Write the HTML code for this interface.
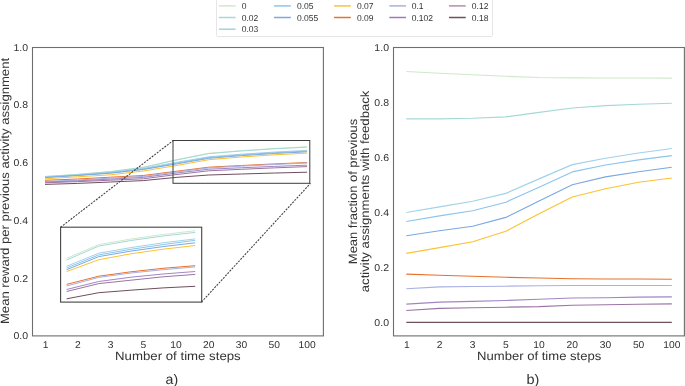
<!DOCTYPE html>
<html><head><meta charset="utf-8"><style>
html,body{margin:0;padding:0;background:#fff;}
svg{display:block;will-change:transform;}
text{font-family:"Liberation Sans", sans-serif;text-rendering:geometricPrecision;}
</style></head><body>
<svg width="685" height="386" viewBox="0 0 685 386">
<defs>
<clipPath id="clipL"><rect x="32" y="47" width="292" height="290"/></clipPath>
<clipPath id="clipI"><rect x="60.5" y="227.3" width="141" height="74.8"/></clipPath>
</defs>
<rect width="685" height="386" fill="#fff"/>
<g clip-path="url(#clipL)">
<polyline points="45.00,176.40 77.76,174.30 110.52,171.50 143.28,167.20 176.04,159.80 208.80,153.30 241.56,150.64 274.32,148.49 307.08,146.80" fill="none" stroke="#cfe9ca" stroke-width="1.0" stroke-linejoin="round" stroke-linecap="butt"/>
<polyline points="45.00,176.60 77.76,174.50 110.52,171.70 143.28,167.50 176.04,160.10 208.80,153.60 241.56,150.94 274.32,148.79 307.08,147.10" fill="none" stroke="#a4d9d5" stroke-width="1.0" stroke-linejoin="round" stroke-linecap="butt"/>
<polyline points="45.00,177.00 77.76,174.90 110.52,172.40 143.28,168.40 176.04,162.40 208.80,156.80 241.56,154.18 274.32,152.06 307.08,150.40" fill="none" stroke="#a0d2e8" stroke-width="1.0" stroke-linejoin="round" stroke-linecap="butt"/>
<polyline points="45.00,177.30 77.76,175.20 110.52,172.80 143.28,169.00 176.04,163.20 208.80,157.50 241.56,154.88 274.32,152.76 307.08,151.10" fill="none" stroke="#8cc4ec" stroke-width="1.0" stroke-linejoin="round" stroke-linecap="butt"/>
<polyline points="45.00,177.60 77.76,175.50 110.52,173.20 143.28,169.50 176.04,164.00 208.80,158.30 241.56,155.64 274.32,153.49 307.08,151.80" fill="none" stroke="#7aa9e2" stroke-width="1.0" stroke-linejoin="round" stroke-linecap="butt"/>
<polyline points="45.00,178.80 77.76,176.80 110.52,174.80 143.28,171.00 176.04,165.60 208.80,159.70 241.56,156.99 274.32,154.82 307.08,153.10" fill="none" stroke="#fcc234" stroke-width="1.0" stroke-linejoin="round" stroke-linecap="butt"/>
<polyline points="45.00,180.30 77.76,179.00 110.52,177.20 143.28,175.50 176.04,171.30 208.80,167.20 241.56,165.51 274.32,163.91 307.08,162.50" fill="none" stroke="#e8722c" stroke-width="1.0" stroke-linejoin="round" stroke-linecap="butt"/>
<polyline points="45.00,181.50 77.76,180.00 110.52,178.10 143.28,176.40 176.04,172.00 208.80,167.90 241.56,166.14 274.32,164.47 307.08,163.00" fill="none" stroke="#a9b0e4" stroke-width="1.0" stroke-linejoin="round" stroke-linecap="butt"/>
<polyline points="45.00,182.10 77.76,180.80 110.52,179.10 143.28,177.40 176.04,173.10 208.80,169.20 241.56,167.76 274.32,166.40 307.08,165.20" fill="none" stroke="#a286c4" stroke-width="1.0" stroke-linejoin="round" stroke-linecap="butt"/>
<polyline points="45.00,182.80 77.76,181.60 110.52,180.20 143.28,178.80 176.04,174.60 208.80,170.80 241.56,169.29 274.32,167.86 307.08,166.60" fill="none" stroke="#9c74a4" stroke-width="1.0" stroke-linejoin="round" stroke-linecap="butt"/>
<polyline points="45.00,184.40 77.76,183.40 110.52,182.00 143.28,180.60 176.04,177.40 208.80,175.00 241.56,173.99 274.32,173.04 307.08,172.20" fill="none" stroke="#6f4e5e" stroke-width="1.0" stroke-linejoin="round" stroke-linecap="butt"/>
</g>
<rect x="173.0" y="140.5" width="136.8" height="42.8" fill="none" stroke="#3c3c3c" stroke-width="1"/>
<rect x="60.6" y="227.2" width="141.1" height="74.9" fill="#fff" stroke="#444" stroke-width="1.1"/>
<g clip-path="url(#clipI)">
<polyline points="66.60,258.40 98.75,244.60 130.90,239.00 163.05,234.50 195.20,230.70" fill="none" stroke="#cfe9ca" stroke-width="1.0" stroke-linejoin="round" stroke-linecap="butt"/>
<polyline points="66.60,260.00 98.75,246.10 130.90,240.50 163.05,236.00 195.20,232.40" fill="none" stroke="#a4d9d5" stroke-width="1.0" stroke-linejoin="round" stroke-linecap="butt"/>
<polyline points="66.60,266.30 98.75,253.20 130.90,247.60 163.05,242.80 195.20,238.90" fill="none" stroke="#a0d2e8" stroke-width="1.0" stroke-linejoin="round" stroke-linecap="butt"/>
<polyline points="66.60,268.00 98.75,254.90 130.90,249.30 163.05,244.60 195.20,240.30" fill="none" stroke="#8cc4ec" stroke-width="1.0" stroke-linejoin="round" stroke-linecap="butt"/>
<polyline points="66.60,269.70 98.75,256.60 130.90,251.10 163.05,246.60 195.20,242.80" fill="none" stroke="#7aa9e2" stroke-width="1.0" stroke-linejoin="round" stroke-linecap="butt"/>
<polyline points="66.60,271.60 98.75,259.70 130.90,253.80 163.05,249.20 195.20,245.50" fill="none" stroke="#fcc234" stroke-width="1.0" stroke-linejoin="round" stroke-linecap="butt"/>
<polyline points="66.60,284.40 98.75,276.20 130.90,271.80 163.05,268.30 195.20,265.70" fill="none" stroke="#e8722c" stroke-width="1.0" stroke-linejoin="round" stroke-linecap="butt"/>
<polyline points="66.60,286.00 98.75,277.40 130.90,273.00 163.05,269.70 195.20,266.90" fill="none" stroke="#a9b0e4" stroke-width="1.0" stroke-linejoin="round" stroke-linecap="butt"/>
<polyline points="66.60,289.50 98.75,281.50 130.90,277.20 163.05,274.00 195.20,271.50" fill="none" stroke="#a286c4" stroke-width="1.0" stroke-linejoin="round" stroke-linecap="butt"/>
<polyline points="66.60,291.50 98.75,283.60 130.90,280.20 163.05,276.80 195.20,274.40" fill="none" stroke="#9c74a4" stroke-width="1.0" stroke-linejoin="round" stroke-linecap="butt"/>
<polyline points="66.60,298.80 98.75,292.70 130.90,290.20 163.05,287.90 195.20,286.30" fill="none" stroke="#6f4e5e" stroke-width="1.0" stroke-linejoin="round" stroke-linecap="butt"/>
</g>
<line x1="60.5" y1="227.3" x2="173.2" y2="140.5" stroke="#3c3c3c" stroke-width="1.05" stroke-dasharray="2.0,1.2"/>
<line x1="201.5" y1="302.1" x2="310.5" y2="183.3" stroke="#3c3c3c" stroke-width="1.05" stroke-dasharray="2.0,1.2"/>
<rect x="32.5" y="47.5" width="290.9" height="288.4" fill="none" stroke="#6e6e6e" stroke-width="1.1"/>
<polyline points="406.30,71.50 439.49,73.20 472.68,74.80 505.87,76.30 539.06,77.50 572.25,77.90 605.44,78.00 638.63,78.00 671.82,78.10" fill="none" stroke="#cfe9ca" stroke-width="1.15" stroke-linejoin="round" stroke-linecap="butt"/>
<polyline points="406.30,118.80 439.49,118.80 472.68,118.30 505.87,116.90 539.06,112.40 572.25,108.00 605.44,105.60 638.63,104.20 671.82,103.30" fill="none" stroke="#a4d9d5" stroke-width="1.15" stroke-linejoin="round" stroke-linecap="butt"/>
<polyline points="406.30,212.50 439.49,206.90 472.68,201.20 505.87,193.40 539.06,178.90 572.25,164.60 605.44,158.20 638.63,153.00 671.82,148.50" fill="none" stroke="#a0d2e8" stroke-width="1.15" stroke-linejoin="round" stroke-linecap="butt"/>
<polyline points="406.30,221.50 439.49,215.90 472.68,210.80 505.87,202.20 539.06,187.20 572.25,171.90 605.44,165.00 638.63,159.90 671.82,155.60" fill="none" stroke="#8cc4ec" stroke-width="1.15" stroke-linejoin="round" stroke-linecap="butt"/>
<polyline points="406.30,235.70 439.49,230.80 472.68,226.30 505.87,217.40 539.06,201.10 572.25,184.80 605.44,176.90 638.63,171.70 671.82,167.20" fill="none" stroke="#7aa9e2" stroke-width="1.15" stroke-linejoin="round" stroke-linecap="butt"/>
<polyline points="406.30,253.40 439.49,247.60 472.68,241.70 505.87,231.30 539.06,213.80 572.25,197.00 605.44,188.80 638.63,182.20 671.82,178.00" fill="none" stroke="#fcc234" stroke-width="1.15" stroke-linejoin="round" stroke-linecap="butt"/>
<polyline points="406.30,274.10 439.49,275.20 472.68,276.20 505.87,277.30 539.06,278.00 572.25,278.80 605.44,279.00 638.63,279.00 671.82,279.30" fill="none" stroke="#e8722c" stroke-width="1.15" stroke-linejoin="round" stroke-linecap="butt"/>
<polyline points="406.30,288.70 439.49,286.90 472.68,286.50 505.87,286.20 539.06,285.80 572.25,285.50 605.44,285.50 638.63,285.50 671.82,285.50" fill="none" stroke="#a9b0e4" stroke-width="1.15" stroke-linejoin="round" stroke-linecap="butt"/>
<polyline points="406.30,304.10 439.49,302.10 472.68,301.40 505.87,300.50 539.06,299.30 572.25,298.00 605.44,297.70 638.63,297.10 671.82,296.90" fill="none" stroke="#a286c4" stroke-width="1.15" stroke-linejoin="round" stroke-linecap="butt"/>
<polyline points="406.30,310.50 439.49,308.40 472.68,307.70 505.87,307.20 539.06,306.60 572.25,305.20 605.44,304.70 638.63,304.20 671.82,303.90" fill="none" stroke="#9c74a4" stroke-width="1.15" stroke-linejoin="round" stroke-linecap="butt"/>
<polyline points="406.30,322.30 439.49,322.30 472.68,322.30 505.87,322.30 539.06,322.30 572.25,322.30 605.44,322.30 638.63,322.30 671.82,322.30" fill="none" stroke="#6f4e5e" stroke-width="1.15" stroke-linejoin="round" stroke-linecap="butt"/>
<rect x="393.5" y="47.5" width="290.9" height="288.4" fill="none" stroke="#6e6e6e" stroke-width="1.1"/>
<text x="45.70" y="347.80" font-size="9.9" text-anchor="middle" textLength="5.73" lengthAdjust="spacingAndGlyphs" fill="#333333">1</text>
<text x="407.00" y="347.80" font-size="9.9" text-anchor="middle" textLength="5.73" lengthAdjust="spacingAndGlyphs" fill="#333333">1</text>
<text x="77.76" y="347.80" font-size="9.9" text-anchor="middle" textLength="5.73" lengthAdjust="spacingAndGlyphs" fill="#333333">2</text>
<text x="439.49" y="347.80" font-size="9.9" text-anchor="middle" textLength="5.73" lengthAdjust="spacingAndGlyphs" fill="#333333">2</text>
<text x="110.52" y="347.80" font-size="9.9" text-anchor="middle" textLength="5.73" lengthAdjust="spacingAndGlyphs" fill="#333333">3</text>
<text x="472.68" y="347.80" font-size="9.9" text-anchor="middle" textLength="5.73" lengthAdjust="spacingAndGlyphs" fill="#333333">3</text>
<text x="143.28" y="347.80" font-size="9.9" text-anchor="middle" textLength="5.73" lengthAdjust="spacingAndGlyphs" fill="#333333">5</text>
<text x="505.87" y="347.80" font-size="9.9" text-anchor="middle" textLength="5.73" lengthAdjust="spacingAndGlyphs" fill="#333333">5</text>
<text x="176.04" y="347.80" font-size="9.9" text-anchor="middle" textLength="11.45" lengthAdjust="spacingAndGlyphs" fill="#333333">10</text>
<text x="539.06" y="347.80" font-size="9.9" text-anchor="middle" textLength="11.45" lengthAdjust="spacingAndGlyphs" fill="#333333">10</text>
<text x="208.80" y="347.80" font-size="9.9" text-anchor="middle" textLength="11.45" lengthAdjust="spacingAndGlyphs" fill="#333333">20</text>
<text x="572.25" y="347.80" font-size="9.9" text-anchor="middle" textLength="11.45" lengthAdjust="spacingAndGlyphs" fill="#333333">20</text>
<text x="241.56" y="347.80" font-size="9.9" text-anchor="middle" textLength="11.45" lengthAdjust="spacingAndGlyphs" fill="#333333">30</text>
<text x="605.44" y="347.80" font-size="9.9" text-anchor="middle" textLength="11.45" lengthAdjust="spacingAndGlyphs" fill="#333333">30</text>
<text x="274.32" y="347.80" font-size="9.9" text-anchor="middle" textLength="11.45" lengthAdjust="spacingAndGlyphs" fill="#333333">50</text>
<text x="638.63" y="347.80" font-size="9.9" text-anchor="middle" textLength="11.45" lengthAdjust="spacingAndGlyphs" fill="#333333">50</text>
<text x="307.08" y="347.80" font-size="9.9" text-anchor="middle" textLength="17.18" lengthAdjust="spacingAndGlyphs" fill="#333333">100</text>
<text x="671.82" y="347.80" font-size="9.9" text-anchor="middle" textLength="17.18" lengthAdjust="spacingAndGlyphs" fill="#333333">100</text>
<text x="28.10" y="339.25" font-size="9.9" text-anchor="end" textLength="14.63" lengthAdjust="spacingAndGlyphs" fill="#333333">0.0</text>
<text x="389.00" y="325.85" font-size="9.9" text-anchor="end" textLength="14.63" lengthAdjust="spacingAndGlyphs" fill="#333333">0.0</text>
<text x="28.10" y="281.56" font-size="9.9" text-anchor="end" textLength="14.63" lengthAdjust="spacingAndGlyphs" fill="#333333">0.2</text>
<text x="389.00" y="270.85" font-size="9.9" text-anchor="end" textLength="14.63" lengthAdjust="spacingAndGlyphs" fill="#333333">0.2</text>
<text x="28.10" y="223.87" font-size="9.9" text-anchor="end" textLength="14.63" lengthAdjust="spacingAndGlyphs" fill="#333333">0.4</text>
<text x="389.00" y="215.85" font-size="9.9" text-anchor="end" textLength="14.63" lengthAdjust="spacingAndGlyphs" fill="#333333">0.4</text>
<text x="28.10" y="166.18" font-size="9.9" text-anchor="end" textLength="14.63" lengthAdjust="spacingAndGlyphs" fill="#333333">0.6</text>
<text x="389.00" y="160.85" font-size="9.9" text-anchor="end" textLength="14.63" lengthAdjust="spacingAndGlyphs" fill="#333333">0.6</text>
<text x="28.10" y="108.49" font-size="9.9" text-anchor="end" textLength="14.63" lengthAdjust="spacingAndGlyphs" fill="#333333">0.8</text>
<text x="389.00" y="105.85" font-size="9.9" text-anchor="end" textLength="14.63" lengthAdjust="spacingAndGlyphs" fill="#333333">0.8</text>
<text x="28.10" y="50.80" font-size="9.9" text-anchor="end" textLength="14.63" lengthAdjust="spacingAndGlyphs" fill="#333333">1.0</text>
<text x="389.00" y="50.85" font-size="9.9" text-anchor="end" textLength="14.63" lengthAdjust="spacingAndGlyphs" fill="#333333">1.0</text>
<text x="177.90" y="360.30" font-size="12.0" text-anchor="middle" textLength="125.64" lengthAdjust="spacingAndGlyphs" fill="#333333">Number of time steps</text>
<text x="539.20" y="360.30" font-size="12.0" text-anchor="middle" textLength="124.23" lengthAdjust="spacingAndGlyphs" fill="#333333">Number of time steps</text>
<text x="171.90" y="383.50" font-size="13.8" text-anchor="middle" textLength="12.64" lengthAdjust="spacingAndGlyphs" fill="#333333">a)</text>
<text x="532.90" y="383.50" font-size="13.8" text-anchor="middle" textLength="12.91" lengthAdjust="spacingAndGlyphs" fill="#333333">b)</text>
<text x="8.60" y="191.00" font-size="12.0" text-anchor="middle" textLength="266.06" lengthAdjust="spacingAndGlyphs" transform="rotate(-90 8.60 191.00)" fill="#333333">Mean reward per previous activity assignment</text>
<text x="356.80" y="191.40" font-size="12.0" text-anchor="middle" textLength="145.45" lengthAdjust="spacingAndGlyphs" transform="rotate(-90 356.80 191.40)" fill="#333333">Mean fraction of previous</text>
<text x="369.20" y="191.40" font-size="12.0" text-anchor="middle" textLength="201.69" lengthAdjust="spacingAndGlyphs" transform="rotate(-90 369.20 191.40)" fill="#333333">activity assignments with feedback</text>
<rect x="216.5" y="-6" width="276" height="42.5" rx="1" fill="#fff" stroke="#e6e6e6" stroke-width="1"/>
<line x1="218.9" y1="5.9" x2="235.6" y2="5.9" stroke="#cfe9ca" stroke-width="1.5"/>
<text x="241.70" y="8.85" font-size="8.6" textLength="4.74" lengthAdjust="spacingAndGlyphs" fill="#333333">0</text>
<line x1="218.9" y1="17.5" x2="235.6" y2="17.5" stroke="#a4d9d5" stroke-width="1.5"/>
<text x="241.70" y="20.65" font-size="8.6" textLength="16.59" lengthAdjust="spacingAndGlyphs" fill="#333333">0.02</text>
<line x1="218.9" y1="29.2" x2="235.6" y2="29.2" stroke="#a0d2e8" stroke-width="1.5"/>
<text x="241.70" y="32.35" font-size="8.6" textLength="16.59" lengthAdjust="spacingAndGlyphs" fill="#333333">0.03</text>
<line x1="274.1" y1="5.9" x2="290.8" y2="5.9" stroke="#8cc4ec" stroke-width="1.5"/>
<text x="296.90" y="8.85" font-size="8.6" textLength="16.59" lengthAdjust="spacingAndGlyphs" fill="#333333">0.05</text>
<line x1="274.1" y1="17.5" x2="290.8" y2="17.5" stroke="#7aa9e2" stroke-width="1.5"/>
<text x="296.90" y="20.65" font-size="8.6" textLength="21.33" lengthAdjust="spacingAndGlyphs" fill="#333333">0.055</text>
<line x1="334.1" y1="5.9" x2="350.8" y2="5.9" stroke="#fcc234" stroke-width="1.5"/>
<text x="356.90" y="8.85" font-size="8.6" textLength="16.59" lengthAdjust="spacingAndGlyphs" fill="#333333">0.07</text>
<line x1="334.1" y1="17.5" x2="350.8" y2="17.5" stroke="#e8722c" stroke-width="1.5"/>
<text x="356.90" y="20.65" font-size="8.6" textLength="16.59" lengthAdjust="spacingAndGlyphs" fill="#333333">0.09</text>
<line x1="389.3" y1="5.9" x2="406.0" y2="5.9" stroke="#a9b0e4" stroke-width="1.5"/>
<text x="411.70" y="8.85" font-size="8.6" textLength="11.85" lengthAdjust="spacingAndGlyphs" fill="#333333">0.1</text>
<line x1="389.3" y1="17.5" x2="406.0" y2="17.5" stroke="#9c7ac0" stroke-width="1.5"/>
<text x="411.70" y="20.65" font-size="8.6" textLength="21.33" lengthAdjust="spacingAndGlyphs" fill="#333333">0.102</text>
<line x1="449.0" y1="5.9" x2="465.7" y2="5.9" stroke="#b38eae" stroke-width="1.5"/>
<text x="471.80" y="8.85" font-size="8.6" textLength="16.59" lengthAdjust="spacingAndGlyphs" fill="#333333">0.12</text>
<line x1="449.0" y1="17.5" x2="465.7" y2="17.5" stroke="#6f4e5e" stroke-width="1.5"/>
<text x="471.80" y="20.65" font-size="8.6" textLength="16.59" lengthAdjust="spacingAndGlyphs" fill="#333333">0.18</text>
</svg>
</body></html>
